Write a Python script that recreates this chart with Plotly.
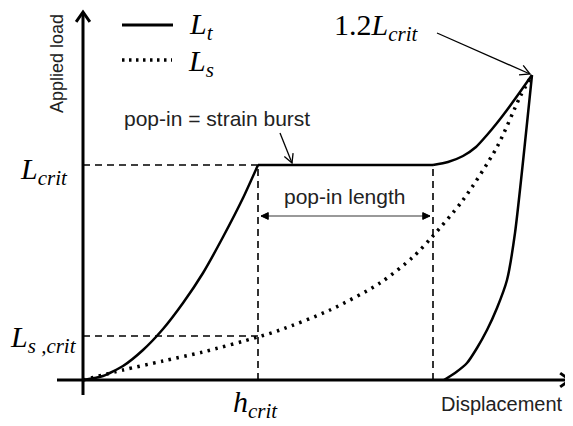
import numpy as np
import plotly.graph_objects as go

# total load L_t: loading up to the pop-in
load_disp = [0, 20, 40, 60, 80, 100, 120, 140, 160, 175]
load_val = [0, 4, 14, 30, 51, 77, 107, 143, 182, 215]
# pop-in plateau (strain burst)
plateau_disp = [175, 350]
plateau_val = [215, 215]
# reloading up to 1.2 L_crit
reload_disp = [350, 365, 380, 393, 404, 414, 424, 437, 449]
reload_val = [215, 218, 224, 233, 245, 257, 270, 288, 305]
# unloading
unload_disp = [449, 432, 424, 414, 404, 394, 384, 372, 361]
unload_val = [305, 147, 100, 72, 50, 32, 17, 7, 0]
# L_s curve
ls_disp = [0, 40, 80, 120, 175, 197, 247, 297, 330, 349, 380, 414, 437, 449]
ls_val = [0, 10, 19, 28, 43, 50, 70, 97, 123, 143, 180, 233, 283, 305]

h_crit = 175
popin_end = 350
L_crit = 215
Ls_crit = 44
peak = (449, 305)

SERIF = "Liberation Serif, Times New Roman, serif"
SANS = "Liberation Sans, Arial, sans-serif"

fig = go.Figure()

solid = dict(color='black', width=2.5, shape='spline', smoothing=0.6)
for xs, ys in [(load_disp, load_val), (plateau_disp, plateau_val),
               (reload_disp, reload_val), (unload_disp, unload_val)]:
    fig.add_trace(go.Scatter(x=xs, y=ys, mode='lines', line=solid,
                             showlegend=False, hoverinfo='skip'))
fig.add_trace(go.Scatter(x=ls_disp, y=ls_val, mode='lines',
                         line=dict(color='black', width=3.5, dash='2.5px,5.5px', shape='spline', smoothing=0.8),
                         showlegend=False, hoverinfo='skip'))

shapes = []


def line(x0, y0, x1, y1, width=2.5, dash='solid', color='black'):
    shapes.append(dict(type='line', xref='x', yref='y', x0=x0, y0=y0, x1=x1, y1=y1,
                       line=dict(color=color, width=width, dash=dash)))


def vhead(x0, y0, x1, y1, size=11, ang=30, width=2.5, filled=False):
    a = np.arctan2(y1 - y0, x1 - x0)
    pts = []
    for s in (1, -1):
        b = a + np.pi - s * np.radians(ang)
        pts.append((x1 + size * np.cos(b), y1 + size * np.sin(b)))
    path = f"M{pts[0][0]},{pts[0][1]} L{x1},{y1} L{pts[1][0]},{pts[1][1]}"
    if filled:
        path += " Z"
    shapes.append(dict(type='path', xref='x', yref='y', path=path,
                       fillcolor='black' if filled else 'rgba(0,0,0,0)',
                       line=dict(color='black', width=width)))


def arrow(x0, y0, x1, y1, **kw):
    line(x0, y0, x1, y1, width=kw.get('width', 2.5), color=kw.pop('color', 'black'))
    vhead(x0, y0, x1, y1, **kw)


# axes
arrow(0, -15, 0, 368, size=12, ang=35, width=3)
arrow(-26, 0, 487, 0, size=12, ang=35, width=3)

# dashed guides
dash = '7px,5px'
line(0, L_crit, h_crit, L_crit, width=1.6, dash=dash)
line(0, Ls_crit, h_crit, Ls_crit, width=1.6, dash=dash)
line(h_crit, 0, h_crit, L_crit, width=1.6, dash=dash)
line(popin_end, 0, popin_end, L_crit, width=1.6, dash=dash)

# pop-in length
line(h_crit + 3, 164, popin_end - 3, 164, width=1.6, color='#777')
vhead(popin_end, 164, h_crit + 3, 164, size=8, ang=25, width=1, filled=True)
vhead(h_crit, 164, popin_end - 3, 164, size=8, ang=25, width=1, filled=True)

# callout arrows
arrow(197, 247, 209, 217, size=10, ang=28, width=1.3)
arrow(354, 347, peak[0] - 2, peak[1] + 1, size=11, ang=28, width=1.3)

# legend samples
line(39, 355, 90, 355, width=3)
line(39, 320, 89, 320, width=3.5, dash='2.5px,4.5px')

ann = []


def text(x, y, s, size, family, **kw):
    ann.append(dict(x=x, y=y, xref='x', yref='y', text=s, showarrow=False,
                    font=dict(size=size, family=family, color=kw.pop('color', 'black')), **kw))


text(118, 354, "<i>L</i><sub><i>t</i></sub>", 30, SERIF)
text(118, 317, "<i>L</i><sub><i>s</i></sub>", 30, SERIF)
text(-39, 209, "<i>L</i><sub><i>crit</i></sub>", 30, SERIF)
text(-40, 41, "<i>L</i><sub><i>s</i> <i>,crit</i></sub>", 30, SERIF)
text(172, -24, "<i>h</i><sub><i>crit</i></sub>", 30, SERIF)
text(293, 353, "1.2<i>L</i><sub><i>crit</i></sub>", 30, SERIF)
text(-26, 316, "Applied load", 18, SANS, textangle=-90, color='#222')
text(419, -24, "Displacement", 20, SANS, color='#222')
text(134, 262, "pop-in = strain burst", 21, SANS, color='#222')
text(261, 184, "pop-in length", 21, SANS, color='#222')

# the page body has an 8px margin, so the figure starts 8px in from the window corner
fig.update_layout(
    width=565, height=418,
    margin=dict(l=0, r=0, t=0, b=0),
    paper_bgcolor='white', plot_bgcolor='white',
    xaxis=dict(range=[-75, 490], visible=False, fixedrange=True),
    yaxis=dict(range=[-46, 372], visible=False, fixedrange=True),
    shapes=shapes, annotations=ann,
)

fig.write_html("out.html")
